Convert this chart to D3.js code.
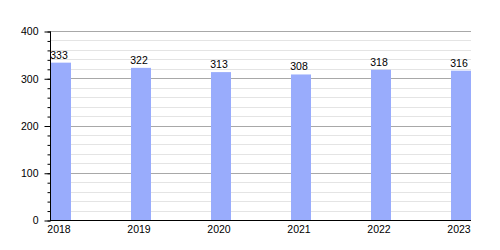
<!DOCTYPE html>
<html>
<head>
<meta charset="utf-8">
<script src="https://cdn.jsdelivr.net/npm/d3@7"></script>
<style>
  body { margin: 0; background: #fff; }
  svg { font-family: "Liberation Sans", Arial, sans-serif; }
</style>
</head>
<body>
<svg id="grafico" width="500" height="250"></svg>
<script>
// datos del grafico
var anios = ["2018", "2019", "2020", "2021", "2022", "2023"];
var valores = [333, 322, 313, 308, 318, 316];
var ticksY = [0, 100, 200, 300, 400];

var datos = anios.map(function (a, i) { return { anio: a, valor: valores[i] }; });

var svg = d3.select("#grafico");
var izq = 51, der = 471, arriba = 31, abajo = 220;
var tamFuente = 10.5;

// escala X de bandas, 80px por anio y barras de 20px
var escalaX = d3.scaleBand().domain(anios).range([izq, der]).paddingInner(0.75).paddingOuter(0).align(0);
var escalaY = d3.scaleLinear().domain([0, 400]).range([abajo, arriba]);

// lineas de la grilla: menores cada 20, mayores cada 100
var menores = d3.range(20, 400, 20).filter(function (v) { return v % 100 != 0; });
svg.append("g").selectAll("line").data(menores).enter().append("line")
    .attr("x1", izq - 1).attr("x2", der)
    .attr("y1", function (d) { return Math.round(escalaY(d)) + 0.5; })
    .attr("y2", function (d) { return Math.round(escalaY(d)) + 0.5; })
    .attr("stroke", "#e4e4e4");
svg.append("g").selectAll("line").data(ticksY.slice(1)).enter().append("line")
    .attr("x1", izq - 1).attr("x2", der)
    .attr("y1", function (d) { return Math.round(escalaY(d)) + 0.5; })
    .attr("y2", function (d) { return Math.round(escalaY(d)) + 0.5; })
    .attr("stroke", "#a8a8a8");

// barras
svg.append("g").selectAll("rect").data(datos).enter().append("rect")
    .attr("x", function (d) { return escalaX(d.anio); })
    .attr("y", function (d) { return escalaY(d.valor); })
    .attr("width", escalaX.bandwidth())
    .attr("height", function (d) { return escalaY(0) - escalaY(d.valor); })
    .attr("fill", "#99acfc");

// etiquetas de valores
svg.append("g").selectAll("text").data(datos).enter().append("text")
    .attr("x", function (d) { return escalaX(d.anio) + escalaX.bandwidth() / 2 - 2; })
    .attr("y", function (d) { return escalaY(d.valor) - 4; })
    .attr("text-anchor", "middle")
    .attr("font-size", tamFuente)
    .attr("fill", "#000")
    .text(function (d) { return d.valor; });

// eje Y con ticks mayores y menores
var ejeYMenor = d3.axisLeft(escalaY).tickValues(d3.range(0, 401, 20)).tickSize(3).tickFormat("");
var gMenor = svg.append("g").attr("transform", "translate(" + (izq - 0.5) + ",0.5)").call(ejeYMenor);
gMenor.select(".domain").remove();
var ejeY = d3.axisLeft(escalaY).tickValues(ticksY).tickSize(6).tickPadding(6);
var gY = svg.append("g").attr("transform", "translate(" + (izq - 0.5) + ",0.5)").call(ejeY);
gY.select(".domain").attr("d", "M0," + arriba + "V" + abajo);
gY.selectAll("text").attr("font-size", tamFuente).attr("font-family", "Liberation Sans, Arial, sans-serif").attr("fill", "#000");

// eje X sin marcas
var ejeX = d3.axisBottom(escalaX).tickSize(0).tickPadding(5);
var gX = svg.append("g").attr("transform", "translate(0," + (abajo + 0.5) + ")").call(ejeX);
gX.select(".domain").attr("d", "M" + (izq - 1) + ",0H" + der);
gX.selectAll("text").attr("font-size", tamFuente).attr("font-family", "Liberation Sans, Arial, sans-serif").attr("fill", "#000").attr("dx", -2);
</script>
</body>
</html>
